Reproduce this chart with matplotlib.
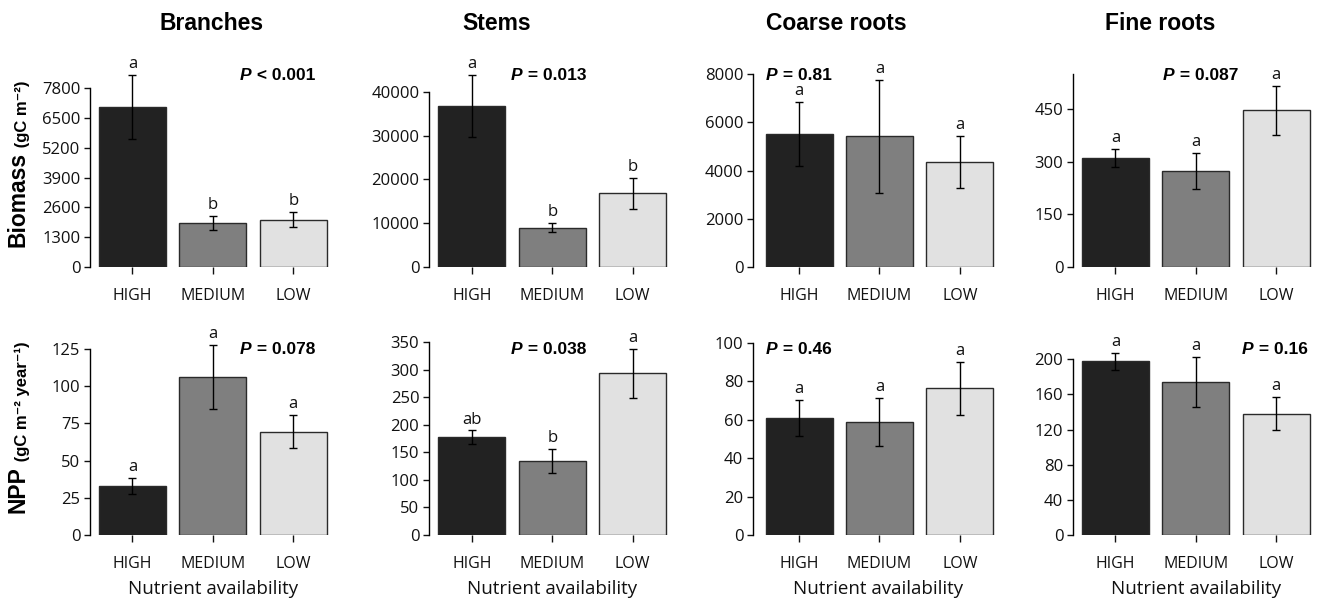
import matplotlib
matplotlib.use('Agg')
import matplotlib.pyplot as plt

# ---------------- data ----------------
categories = ['HIGH', 'MEDIUM', 'LOW']
panel_titles = ['Branches', 'Stems', 'Coarse roots', 'Fine roots']

bio_mean = [[6970, 1917, 2062], [36700, 9000, 16840], [5535, 5425, 4350], [311, 274, 447]]
bio_se = [[1400, 300, 335], [7100, 1100, 3580], [1330, 2345, 1090], [27, 52, 70]]
bio_letters = [['a', 'b', 'b'], ['a', 'b', 'b'], ['a', 'a', 'a'], ['a', 'a', 'a']]
bio_p = ['< 0.001', '= 0.013', '= 0.81', '= 0.087']
bio_ticks = [[0, 1300, 2600, 3900, 5200, 6500, 7800],
             [0, 10000, 20000, 30000, 40000],
             [0, 2000, 4000, 6000, 8000],
             [0, 150, 300, 450]]
bio_axis_top = [7800, 40000, 8000, 550]
bio_ylim_top = [9035, 47314, 8594, 590.7]

npp_mean = [[32.9, 106.4, 69.4], [177.5, 134.5, 293.8], [60.9, 59.0, 76.4], [197.7, 174.2, 138.1]]
npp_se = [[5.6, 21.5, 11.2], [12.4, 22.4, 44.0], [9.3, 12.4, 13.9], [9.5, 28.8, 18.6]]
npp_letters = [['a', 'a', 'a'], ['ab', 'b', 'a'], ['a', 'a', 'a'], ['a', 'a', 'a']]
npp_p = ['= 0.078', '= 0.038', '= 0.46', '= 0.16']
npp_ticks = [[0, 25, 50, 75, 100, 125],
             [0, 50, 100, 150, 200, 250, 300, 350],
             [0, 20, 40, 60, 80, 100],
             [0, 40, 80, 120, 160, 200]]
npp_axis_top = [125, 350, 100, 200]
npp_ylim_top = [137.8, 372.5, 106.8, 233.4]

bar_colors = ['#222222', '#7f7f7f', '#e1e1e1']

# ---------------- layout ----------------
W, H = 1325, 599
plt.rcParams['font.family'] = ['Open Sans', 'DejaVu Sans']
fig = plt.figure(figsize=(W / 100, H / 100), dpi=100)
fig.patch.set_facecolor('white')

bar_x = [0.7, 1.9, 3.1]
px_per_unit = 67.0
col_axis_px = [90, 429, 753, 1073]
col_xl = [0.066, 0.061, 0.012, 0.066]
x_right = 3.736
title_x_px = [212, 497, 836, 1160]
p_left_top = [240, 511, 766, 1163]
p_left_bot = [240, 511, 766, 1242]

BOLD = ['Liberation Sans', 'DejaVu Sans']


def make_axes(left_px, xl, bottom_px, top_px):
    width_px = (x_right - xl) * px_per_unit
    ax = fig.add_axes([left_px / W, 1 - bottom_px / H, width_px / W, (bottom_px - top_px) / H])
    ax.set_xlim(xl, x_right)
    return ax


def draw_panel(ax, means, ses, letters, ticks, axis_top, ylim_top):
    ax.bar(bar_x, means, width=1.0, color=bar_colors, edgecolor='#2a2a2a',
           linewidth=1.0, zorder=2)
    ax.errorbar(bar_x, means, yerr=ses, fmt='none', ecolor='black',
                elinewidth=1.0, capsize=3, capthick=1.0, zorder=3)
    for xi, m, s, l in zip(bar_x, means, ses, letters):
        ax.annotate(l, xy=(xi, m + s), xytext=(0, 5), textcoords='offset points',
                    ha='center', va='baseline', fontsize=12, color='#111111')
    ax.set_ylim(0, ylim_top)
    for sp in ['top', 'right', 'bottom']:
        ax.spines[sp].set_visible(False)
    ax.spines['left'].set_bounds(0, axis_top)
    ax.spines['left'].set_linewidth(1.0)
    ax.set_yticks(ticks)
    ax.set_yticklabels([str(t) for t in ticks])
    ax.set_xticks(bar_x)
    ax.set_xticklabels(categories)
    ax.tick_params(axis='y', direction='out', length=4, width=1.0, pad=3,
                   labelsize=12, colors='#111111')
    ax.tick_params(axis='x', direction='out', length=5, width=1.0, pad=10,
                   labelsize=11.5, colors='#111111')
    ax.set_facecolor('none')


def draw_p(ax, x_px, yc_px, rest):
    t1 = fig.text(x_px / W, 1 - yc_px / H, 'P', family=BOLD, fontweight='bold',
                  fontstyle='italic', fontsize=12.5, ha='left', va='center')
    ax.annotate(' ' + rest, xy=(1, 0), xycoords=t1, ha='left', va='bottom',
                family=BOLD, fontweight='bold', fontsize=12.5, annotation_clip=False)


for c in range(4):
    ax_top = make_axes(col_axis_px[c], col_xl[c], 267, 60)
    draw_panel(ax_top, bio_mean[c], bio_se[c], bio_letters[c], bio_ticks[c],
               bio_axis_top[c], bio_ylim_top[c])
    draw_p(ax_top, p_left_top[c], 75, bio_p[c])

    ax_bot = make_axes(col_axis_px[c], col_xl[c], 535, 330)
    draw_panel(ax_bot, npp_mean[c], npp_se[c], npp_letters[c], npp_ticks[c],
               npp_axis_top[c], npp_ylim_top[c])
    draw_p(ax_bot, p_left_bot[c], 349.5, npp_p[c])
    ax_bot.set_xlabel('Nutrient availability', fontsize=13.5, labelpad=6, color='#111111')

    fig.text(title_x_px[c] / W, 1 - 23 / H, panel_titles[c], family=BOLD,
             fontweight='bold', fontsize=16.5, ha='center', va='center')

# y-axis labels
axl = fig.axes[0]
t_bio = fig.text(30 / W, 1 - 247 / H, 'Biomass', family=BOLD, fontweight='bold',
                 fontsize=16.5, rotation=90, ha='right', va='bottom')
axl.annotate(' (gC m\u207b\u00b2)', xy=(1, 1), xycoords=t_bio, ha='right', va='bottom',
             rotation=90, family=BOLD, fontweight='bold', fontsize=12,
             annotation_clip=False)
t_npp = fig.text(30 / W, 1 - 513 / H, 'NPP', family=BOLD, fontweight='bold',
                 fontsize=16.5, rotation=90, ha='right', va='bottom')
axl.annotate(' (gC m\u207b\u00b2 year\u207b\u00b9)', xy=(1, 1), xycoords=t_npp,
             ha='right', va='bottom', rotation=90, family=BOLD, fontweight='bold',
             fontsize=12, annotation_clip=False)

fig.savefig('out.png', dpi=100, facecolor='white')
